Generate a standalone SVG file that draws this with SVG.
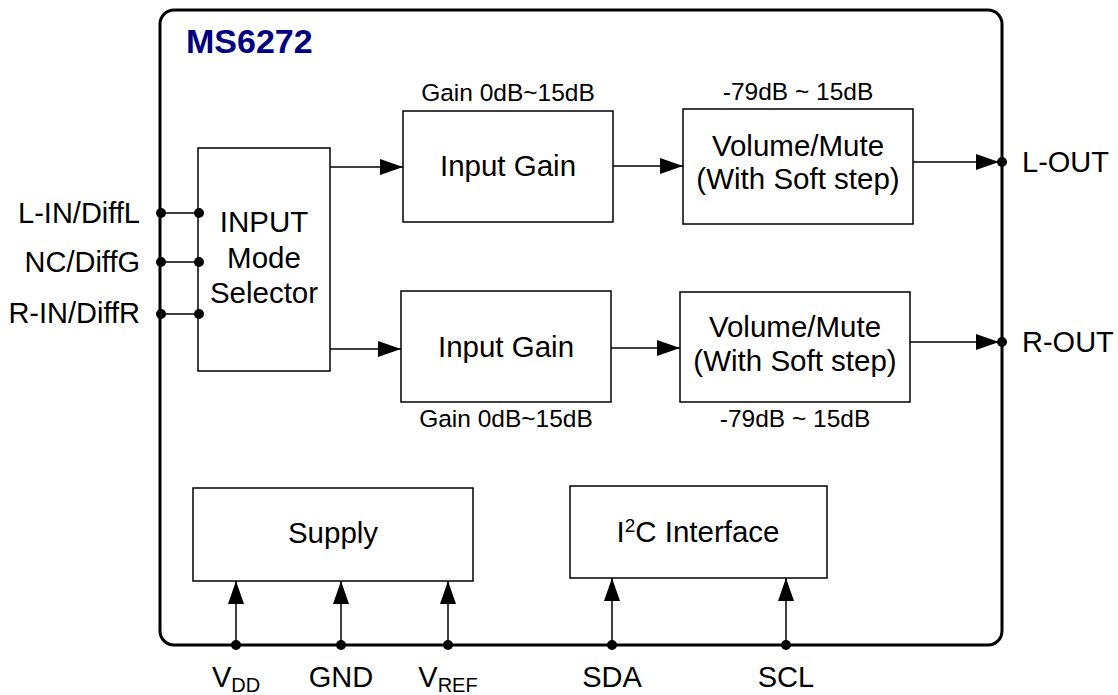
<svg xmlns="http://www.w3.org/2000/svg" width="1118" height="695" viewBox="0 0 1118 695">
<style>
text{font-family:"Liberation Sans",Arial,sans-serif;fill:#000}
.box{fill:#fff;stroke:#000;stroke-width:1.5}
.main{font-size:29.5px;text-anchor:middle}
.sm{font-size:24.5px;text-anchor:middle}
.pin{font-size:29px}
.ln{stroke:#000;stroke-width:1.5;fill:none}
.dot{fill:#000}
</style>
<defs>
<marker id="ah" markerUnits="userSpaceOnUse" markerWidth="23" markerHeight="16" refX="23" refY="8" orient="auto">
<path d="M0,0 L23,8 L0,16 z" fill="#000"/>
</marker>
</defs>
<rect x="160" y="10" width="842" height="635" rx="14" fill="none" stroke="#000" stroke-width="3"/>
<text x="186" y="53" font-size="34" font-weight="bold" style="fill:#000080">MS6272</text>

<g id="selector">
<rect class="box" x="198" y="148" width="132" height="223"/>
<text class="main" x="264" y="232">INPUT</text>
<text class="main" x="264" y="268">Mode</text>
<text class="main" x="264" y="303">Selector</text>
</g>
<g id="gainL">
<rect class="box" x="403" y="111" width="210" height="111"/>
<text class="main" x="508" y="176">Input Gain</text>
<text class="sm" x="508" y="101">Gain 0dB~15dB</text>
</g>
<g id="volL">
<rect class="box" x="683" y="109" width="230" height="115"/>
<text class="main" x="798" y="156">Volume/Mute</text>
<text class="main" x="798" y="189">(With Soft step)</text>
<text class="sm" x="798" y="100">-79dB ~ 15dB</text>
</g>
<g id="gainR">
<rect class="box" x="401" y="291" width="210" height="111"/>
<text class="main" x="506" y="357">Input Gain</text>
<text class="sm" x="506" y="427">Gain 0dB~15dB</text>
</g>
<g id="volR">
<rect class="box" x="680" y="292" width="230" height="110"/>
<text class="main" x="795" y="337">Volume/Mute</text>
<text class="main" x="795" y="371">(With Soft step)</text>
<text class="sm" x="795" y="427">-79dB ~ 15dB</text>
</g>
<g id="supply">
<rect class="box" x="193" y="488" width="280" height="93"/>
<text class="main" x="333" y="543">Supply</text>
</g>
<g id="i2c">
<rect class="box" x="570" y="486" width="257" height="92"/>
<text class="main" x="698" y="542">I<tspan font-size="19" dy="-10">2</tspan><tspan dy="10">C Interface</tspan></text>
</g>

<g id="pins">
<text class="pin" x="140" y="223" text-anchor="end">L-IN/DiffL</text>
<text class="pin" x="140" y="272" text-anchor="end">NC/DiffG</text>
<text class="pin" x="140" y="323" text-anchor="end">R-IN/DiffR</text>
<text class="pin" x="1022" y="172">L-OUT</text>
<text class="pin" x="1022" y="352">R-OUT</text>
<text class="pin" x="236" y="687" text-anchor="middle">V<tspan font-size="20" dy="5">DD</tspan></text>
<text class="pin" x="341" y="687" text-anchor="middle">GND</text>
<text class="pin" x="448" y="687" text-anchor="middle">V<tspan font-size="20" dy="5">REF</tspan></text>
<text class="pin" x="612" y="687" text-anchor="middle">SDA</text>
<text class="pin" x="786" y="687" text-anchor="middle">SCL</text>
</g>

<g id="connectors">
<line class="ln" x1="161" y1="213" x2="198" y2="213"/>
<line class="ln" x1="161" y1="262" x2="198" y2="262"/>
<line class="ln" x1="161" y1="314" x2="198" y2="314"/>
<circle class="dot" cx="161" cy="213" r="5"/><circle class="dot" cx="199" cy="213" r="5"/>
<circle class="dot" cx="161" cy="262" r="5"/><circle class="dot" cx="199" cy="262" r="5"/>
<circle class="dot" cx="161" cy="314" r="5"/><circle class="dot" cx="199" cy="314" r="5"/>
<line class="ln" x1="330" y1="167" x2="403" y2="167" marker-end="url(#ah)"/>
<line class="ln" x1="613" y1="166" x2="683" y2="166" marker-end="url(#ah)"/>
<line class="ln" x1="913" y1="162" x2="999" y2="162" marker-end="url(#ah)"/>
<circle class="dot" cx="1002" cy="162" r="5"/>
<line class="ln" x1="330" y1="349" x2="401" y2="349" marker-end="url(#ah)"/>
<line class="ln" x1="611" y1="348" x2="680" y2="348" marker-end="url(#ah)"/>
<line class="ln" x1="910" y1="342" x2="999" y2="342" marker-end="url(#ah)"/>
<circle class="dot" cx="1002" cy="342" r="5"/>
<line class="ln" x1="236" y1="645" x2="236" y2="581" marker-end="url(#ah)"/>
<line class="ln" x1="341" y1="645" x2="341" y2="581" marker-end="url(#ah)"/>
<line class="ln" x1="448" y1="645" x2="448" y2="581" marker-end="url(#ah)"/>
<line class="ln" x1="612" y1="645" x2="612" y2="578" marker-end="url(#ah)"/>
<line class="ln" x1="786" y1="645" x2="786" y2="578" marker-end="url(#ah)"/>
<circle class="dot" cx="236" cy="645" r="5"/>
<circle class="dot" cx="341" cy="645" r="5"/>
<circle class="dot" cx="448" cy="645" r="5"/>
<circle class="dot" cx="612" cy="645" r="5"/>
<circle class="dot" cx="786" cy="645" r="5"/>
</g>
</svg>
